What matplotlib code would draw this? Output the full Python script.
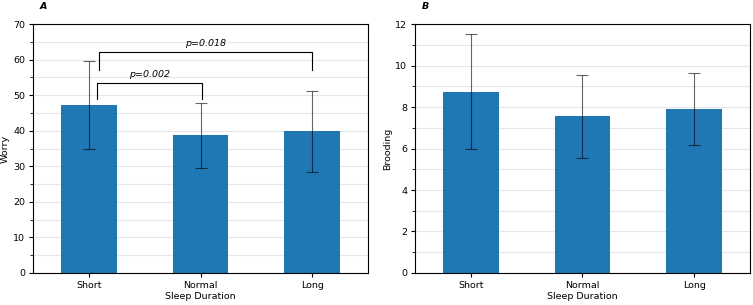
import numpy as np
import matplotlib.pyplot as plt

groups = ['Short', 'Normal', 'Long']
worry_mean = [47.2, 38.7, 39.8]
worry_sd = [12.4, 9.1, 11.5]
brood_mean = [8.75, 7.55, 7.9]
brood_sd = [2.75, 2.0, 1.75]

plt.rcParams['font.size'] = 6.8
plt.rcParams['xtick.labelsize'] = 6.8
plt.rcParams['ytick.labelsize'] = 6.8

fig = plt.figure(figsize=(7.53, 3.05), dpi=100)
ax1 = fig.add_axes([0.0438, 0.105, 0.445, 0.816])
ax2 = fig.add_axes([0.551, 0.105, 0.445, 0.816])

x = np.arange(len(groups))

for ax, mean, sd, ylab, lim, major, minor, tag in [
        (ax1, worry_mean, worry_sd, 'Worry', 70, 10, 5, 'A'),
        (ax2, brood_mean, brood_sd, 'Brooding', 12, 2, 1, 'B')]:
    ax.set_axisbelow(True)
    ax.bar(x, mean, width=0.5, color='#1f77b4')
    ax.errorbar(x, mean, yerr=sd, fmt='none', ecolor='black', alpha=0.6,
                elinewidth=0.8, capsize=4, capthick=0.8)
    ax.set_xlim(-0.5, 2.5)
    ax.set_ylim(0, lim)
    ax.set_yticks(np.arange(0, lim + 0.1, major))
    ax.set_yticks(np.arange(0, lim + 0.1, minor), minor=True)
    ax.tick_params(axis='both', which='major', length=3, pad=2.5)
    ax.tick_params(axis='y', which='minor', length=2)
    ax.grid(axis='y', which='both', color='#e6e6e6', linewidth=0.8)
    ax.set_xticks(x)
    ax.set_xticklabels(groups)
    ax.set_xlabel('Sleep Duration', labelpad=1.5)
    ax.set_ylabel(ylab, labelpad=2.5)
    ax.text(0.02, 1.072, tag, transform=ax.transAxes, ha='left', va='center',
            fontstyle='italic', fontweight='bold')
    for s in ax.spines.values():
        s.set_linewidth(0.8)

# significance brackets
def bracket(ax, x0, x1, y_low, y_top, text, ty):
    ax.plot([x0, x0, x1, x1], [y_low, y_top, y_top, y_low], color='black', linewidth=0.8)
    ax.text((x0 + x1) / 2, ty, text, ha='center', va='center', fontstyle='italic')

bracket(ax1, 0.07, 1.01, 48.9, 53.4, 'p=0.002', 55.7)
bracket(ax1, 0.09, 2.0, 57.1, 62.1, 'p=0.018', 64.6)

fig.savefig('out.png', dpi=100)
